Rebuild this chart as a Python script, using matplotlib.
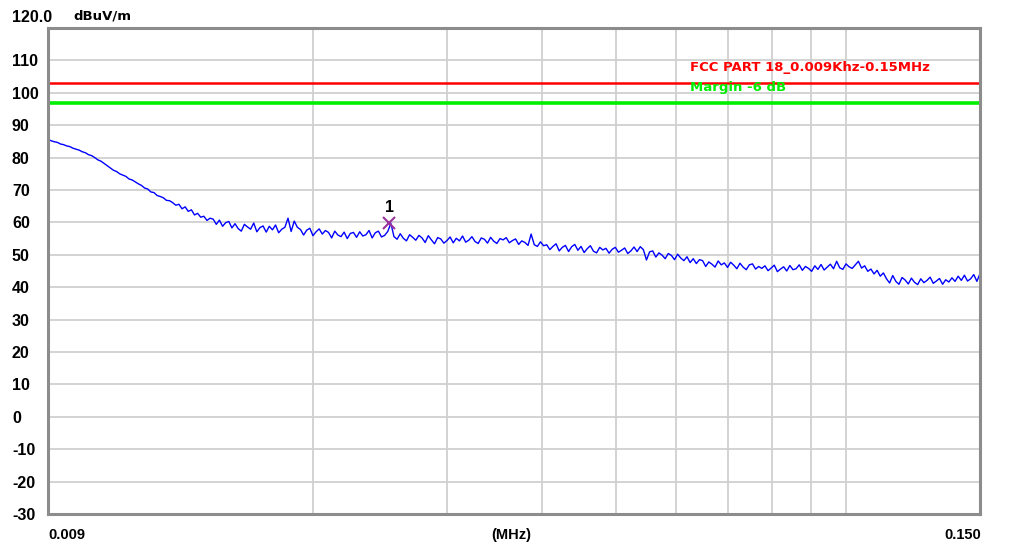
import numpy as np
import matplotlib
matplotlib.use("Agg")
import matplotlib.pyplot as plt

# ---------------- data ----------------
f_start, f_stop = 0.009, 0.150          # MHz
limit_level = 103.0                      # dBuV/m  (FCC Part 18)
margin_level = 97.0                      # limit - 6 dB
limit_label = "FCC PART 18_0.009Khz-0.15MHz"
margin_label = "Margin -6 dB"
marker_freq = 0.0252
marker_level = 59.8
marker_name = "1"
y_ticks = [-30, -20, -10, 0, 10, 20, 30, 40, 50, 60, 70, 80, 90, 100, 110]
x_grid = [0.02, 0.03, 0.04, 0.05, 0.06, 0.07, 0.08, 0.09, 0.1]

trace_level = [
    85.6, 85.2, 84.9, 84.7, 84.2, 84.0, 83.6, 83.4, 82.9, 82.6,
    82.3, 81.8, 81.5, 80.9, 80.6, 80.0, 79.3, 78.9, 78.2, 77.5,
    76.8, 76.1, 75.7, 75.0, 74.6, 74.2, 73.4, 73.1, 72.5, 71.9,
    71.4, 70.6, 70.3, 69.4, 69.2, 68.3, 68.0, 67.6, 66.8, 66.7,
    66.1, 65.3, 65.6, 64.2, 64.8, 63.4, 63.9, 62.3, 62.8, 61.6,
    61.9, 60.6, 61.3, 61.0, 59.4, 60.7, 58.8, 59.9, 60.3, 58.3,
    59.6, 58.1, 57.3, 59.4, 58.6, 57.9, 59.8, 57.1, 58.4, 58.9,
    57.0, 58.8, 57.7, 59.2, 56.8, 57.9, 58.5, 61.3, 57.2, 60.4,
    58.5, 57.8, 56.1, 57.6, 58.2, 55.9, 57.1, 58.0, 56.4, 57.5,
    56.9, 55.2, 57.3, 56.1, 55.6, 57.0, 55.0, 56.6, 56.9, 55.4,
    57.1, 55.8, 56.2, 57.5, 55.2, 56.8, 57.3, 55.5, 56.0, 57.2,
    59.7, 55.6, 54.8, 56.5, 55.1, 54.3, 56.2, 55.4, 54.5, 56.0,
    55.2, 53.8, 55.9, 54.6, 53.4, 55.3, 54.9, 53.6, 54.4, 55.5,
    53.7, 55.1, 54.3, 55.8, 53.9, 54.5, 55.6, 54.1, 53.5, 55.2,
    54.8, 53.6, 55.4, 54.2, 53.5, 55.0, 54.6, 55.3, 53.7, 54.4,
    54.9, 53.2, 54.3, 53.8, 52.9, 56.4, 53.1, 52.6, 54.0, 52.8,
    53.1, 51.6, 52.6, 53.4, 51.2, 52.3, 52.9, 51.0, 52.5, 53.2,
    51.4, 52.6, 50.7, 51.9, 52.8, 51.1, 50.6, 52.3, 51.5, 52.0,
    50.5, 51.7, 52.3, 50.8, 51.4, 52.1, 50.4, 51.2, 52.4, 51.0,
    52.5, 51.6, 48.4, 50.9, 51.2, 49.3, 50.6, 49.9, 48.8, 50.4,
    49.8, 48.5, 50.2, 49.0, 48.2, 49.4, 47.6, 48.8, 47.3, 48.5,
    48.2, 46.4, 47.8, 47.1, 46.2, 48.1, 46.9, 47.5, 46.1, 47.7,
    46.8, 45.7, 47.4, 46.2, 45.4, 46.9, 47.2, 45.6, 46.4, 45.8,
    46.6, 45.1, 45.9, 46.8, 44.8, 45.6, 46.3, 45.0, 46.7, 45.4,
    45.7, 46.9, 45.2, 46.4, 45.8, 44.9, 46.6, 45.5, 47.0, 45.3,
    46.2, 47.1, 45.7, 48.0, 46.0, 45.5, 47.2, 46.3, 45.8, 46.9,
    48.0, 45.9, 46.6, 44.9, 45.6, 44.1, 45.2, 43.4, 44.4, 42.6,
    41.3, 43.6, 41.8, 40.9, 43.0, 42.2, 41.0, 42.8, 41.5, 40.8,
    42.6, 41.4, 42.1, 43.1, 41.2, 41.9, 42.7, 40.9, 42.3, 41.6,
    42.9, 41.8, 43.4, 42.1, 43.7, 41.9, 42.6, 43.9, 41.8, 44.2,
]
# sweep frequencies (log-spaced across the span)
trace_freq = np.geomspace(f_start, f_stop, len(trace_level))

# ---------------- figure ----------------
W, H = 1011, 548
fig = plt.figure(figsize=(W / 100, H / 100), dpi=100)
fig.patch.set_facecolor("white")
ax = fig.add_axes([48 / W, (H - 514) / H, 932 / W, 486 / H])
ax.set_xscale("log")
ax.set_xlim(f_start, f_stop)
ax.set_ylim(-30, 120)

grid_c = "#d0d0d0"
for yv in y_ticks[1:]:
    ax.axhline(yv, color=grid_c, lw=1.3, zorder=1)
for xv in x_grid:
    ax.axvline(xv, color=grid_c, lw=1.3, zorder=1)

ax.axhline(limit_level, color="#ff0000", lw=1.8, zorder=3)
ax.axhline(margin_level, color="#00ee00", lw=2.6, zorder=3)

ax.plot(trace_freq, trace_level, color="#0000ff", lw=1.0, zorder=4)

ax.plot([marker_freq], [marker_level], marker="x", color="#993399",
        markersize=8, mew=1.5, zorder=5)
ax.annotate(marker_name, (marker_freq, marker_level), xytext=(0, 6),
            textcoords="offset points", ha="center", va="bottom",
            fontsize=11.5, fontweight="bold", color="black", zorder=6,
            family="Liberation Sans")

ax.text(690 / W, 1 - 67 / H, limit_label, transform=fig.transFigure,
        color="#ff0000", fontsize=9.5, fontweight="bold", va="center", ha="left")
ax.text(690 / W, 1 - 88 / H, margin_label, transform=fig.transFigure,
        color="#00ee00", fontsize=9.5, fontweight="bold", va="center", ha="left")

# y ticks
ax.set_yticks(y_ticks)
ax.set_yticklabels([str(v) for v in y_ticks])
ax.tick_params(axis="y", length=0, pad=26, labelsize=11.5)
for lbl in ax.get_yticklabels():
    lbl.set_horizontalalignment("left")
    lbl.set_fontweight("bold")
    lbl.set_family("Liberation Sans")
ax.minorticks_off()
ax.set_xticks([])
ax.xaxis.set_minor_locator(matplotlib.ticker.NullLocator())

fig.text(12 / W, 1 - 17 / H, "120.0", fontsize=11.5, fontweight="bold",
         va="center", ha="left", family="Liberation Sans")
fig.text(73 / W, 1 - 16 / H, "dBuV/m", fontsize=9.5, fontweight="bold",
         va="center", ha="left")

fig.text(48 / W, 1 - 535 / H, "0.009", fontsize=10.5, fontweight="bold",
         va="center", ha="left", family="Liberation Sans")
fig.text(981 / W, 1 - 535 / H, "0.150", fontsize=10.5, fontweight="bold",
         va="center", ha="right", family="Liberation Sans")
fig.text(511 / W, 1 - 535 / H, "(MHz)", fontsize=10.5, fontweight="bold",
         va="center", ha="center", family="Liberation Sans")

for s in ax.spines.values():
    s.set_color("#8c8c8c")
    s.set_linewidth(2.2)
    s.set_zorder(7)

fig.savefig("out.png", dpi=100, facecolor="white")
